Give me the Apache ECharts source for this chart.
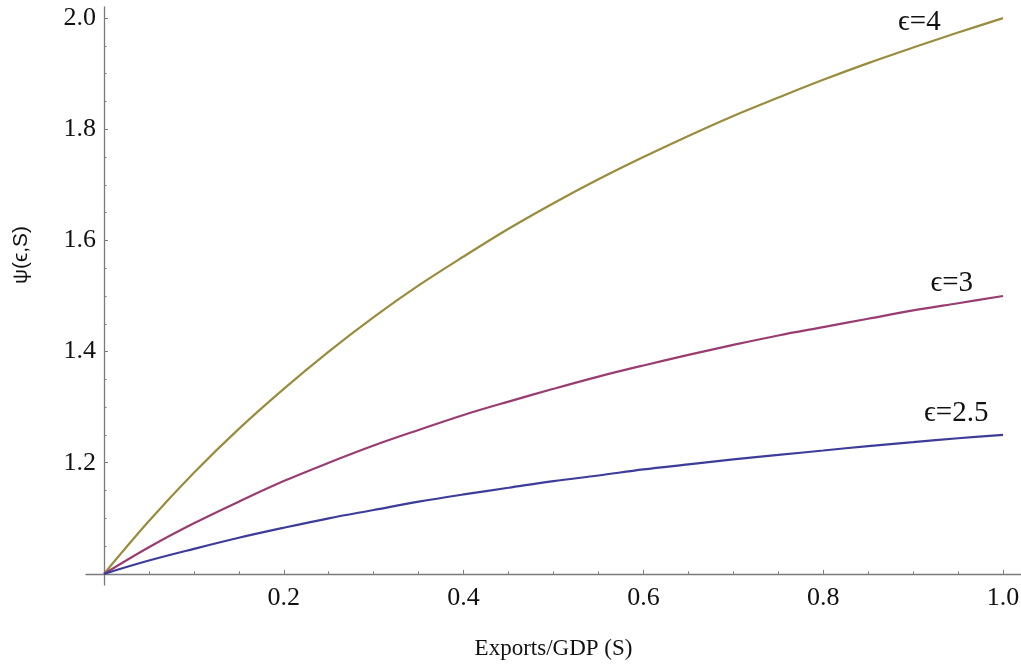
<!DOCTYPE html>
<html><head><meta charset="utf-8">
<script src="https://cdn.jsdelivr.net/npm/echarts@6/dist/echarts.min.js"></script>
<style>html,body{margin:0;padding:0;background:#fff}#c{width:1021px;height:668px}</style>
</head><body><div id="c"></div>
<script>
// Exports/GDP share S
const S = [0, 0.05, 0.1, 0.15, 0.2, 0.25, 0.3, 0.35, 0.4, 0.45, 0.5, 0.55, 0.6, 0.65, 0.7, 0.75, 0.8, 0.85, 0.9, 0.95, 1.0];
// psi(eps, S)
const psiEps4  = [1.000, 1.095, 1.182, 1.261, 1.333, 1.400, 1.462, 1.519, 1.571, 1.621, 1.667, 1.710, 1.750, 1.788, 1.824, 1.857, 1.889, 1.919, 1.947, 1.974, 2.000];
const psiEps3  = [1.000, 1.048, 1.091, 1.130, 1.167, 1.200, 1.231, 1.259, 1.286, 1.310, 1.333, 1.355, 1.375, 1.394, 1.412, 1.429, 1.444, 1.459, 1.474, 1.487, 1.500];
const psiEps25 = [1.000, 1.024, 1.045, 1.065, 1.083, 1.100, 1.115, 1.130, 1.143, 1.155, 1.167, 1.177, 1.188, 1.197, 1.206, 1.214, 1.222, 1.230, 1.237, 1.244, 1.250];
const seriesNames = ['\u03F5=4', '\u03F5=3', '\u03F5=2.5'];
const seriesValues = [psiEps4, psiEps3, psiEps25];
const seriesColors = ['#998c3d', '#993d71', '#3d3d99'];
// curve label anchors (S, psi)
const labelAnchors = [[0.907, 1.993], [0.943, 1.523], [0.948, 1.288]];
// tick labels
const xTicks = [0.2, 0.4, 0.6, 0.8, 1.0];
const yTicks = [1.2, 1.4, 1.6, 1.8, 2.0];
const xMinorTicks = [0.05, 0.1, 0.15, 0.25, 0.3, 0.35, 0.45, 0.5, 0.55, 0.65, 0.7, 0.75, 0.85, 0.9, 0.95];
const yMinorTicks = [1.05, 1.1, 1.15, 1.25, 1.3, 1.35, 1.45, 1.5, 1.55, 1.65, 1.7, 1.75, 1.85, 1.9, 1.95];
const xTitle = 'Exports/GDP (S)';
const yTitle = '\u03C8(\u03F5,S)';
// the horizontal axis crosses the vertical one at psi = BASE
const BASE = 1.0;

const AXIS_COLOR = '#7a7a7a';
const serif = '"Liberation Serif", "DejaVu Serif", serif';

const chart = echarts.init(document.getElementById('c'), null, {renderer: 'canvas'});

const series = seriesValues.map((vals, i) => ({
  name: seriesNames[i],
  type: 'line',
  xAxisIndex: 0,
  yAxisIndex: 0,
  data: S.map((s, k) => [s, vals[k] - BASE]),
  showSymbol: false,
  smooth: 0.35,
  lineStyle: {color: seriesColors[i], width: 2.2},
  itemStyle: {color: seriesColors[i]},
  silent: true,
  z: 3,
  markPoint: {
    symbol: 'circle',
    symbolSize: 1,
    itemStyle: {color: 'rgba(0,0,0,0)'},
    label: {show: true, position: 'inside', formatter: seriesNames[i], color: '#111', fontFamily: serif, fontSize: 29},
    data: [{coord: [labelAnchors[i][0], labelAnchors[i][1] - BASE]}]
  }
}));

const option = {
  animation: false,
  backgroundColor: '#ffffff',
  grid: {left: 86, right: 0, top: 7, bottom: 83, containLabel: false, outerBoundsMode: 'none'},
  xAxis: [{
    type: 'value', min: -0.02, max: 1.02,
    axisLine: {show: true, onZero: true, lineStyle: {color: AXIS_COLOR, width: 1.3}},
    axisTick: {show: true, inside: true, length: 4, customValues: xTicks, lineStyle: {color: AXIS_COLOR, width: 1}},
    axisLabel: {show: true, customValues: xTicks, formatter: v => v.toFixed(1), fontFamily: serif, fontSize: 26, color: '#111', margin: 0},
    splitLine: {show: false},
    name: xTitle, nameLocation: 'middle', nameGap: 52,
    nameTextStyle: {fontFamily: serif, fontSize: 23, color: '#111'}
  }, {
    type: 'value', min: -0.02, max: 1.02, position: 'bottom',
    axisLine: {show: false, onZero: true, onZeroAxisIndex: 0},
    axisTick: {show: true, inside: true, length: 2.5, customValues: xMinorTicks, lineStyle: {color: AXIS_COLOR, width: 1}},
    axisLabel: {show: false},
    splitLine: {show: false}
  }],
  yAxis: [{
    type: 'value', min: -0.02, max: 1.02,
    axisLine: {show: true, onZero: true, lineStyle: {color: AXIS_COLOR, width: 1.3}},
    axisTick: {show: true, inside: true, length: 4, customValues: yTicks.map(v => v - BASE), lineStyle: {color: AXIS_COLOR, width: 1}},
    axisLabel: {show: true, customValues: yTicks.map(v => v - BASE), formatter: v => (v + BASE).toFixed(1), fontFamily: serif, fontSize: 26, color: '#111', margin: -10},
    splitLine: {show: false},
    name: yTitle, nameLocation: 'middle', nameGap: 54, nameRotate: 90,
    nameTextStyle: {fontFamily: '"Liberation Sans", "DejaVu Sans", sans-serif', fontSize: 21, color: '#111', padding: [0, 0, 0, 82]}
  }, {
    type: 'value', min: -0.02, max: 1.02, position: 'left',
    axisLine: {show: false, onZero: true, onZeroAxisIndex: 0},
    axisTick: {show: true, inside: true, length: 2.5, customValues: yMinorTicks.map(v => v - BASE), lineStyle: {color: AXIS_COLOR, width: 1}},
    axisLabel: {show: false},
    splitLine: {show: false}
  }],
  series: series
};
chart.setOption(option);
</script>
</body></html>
